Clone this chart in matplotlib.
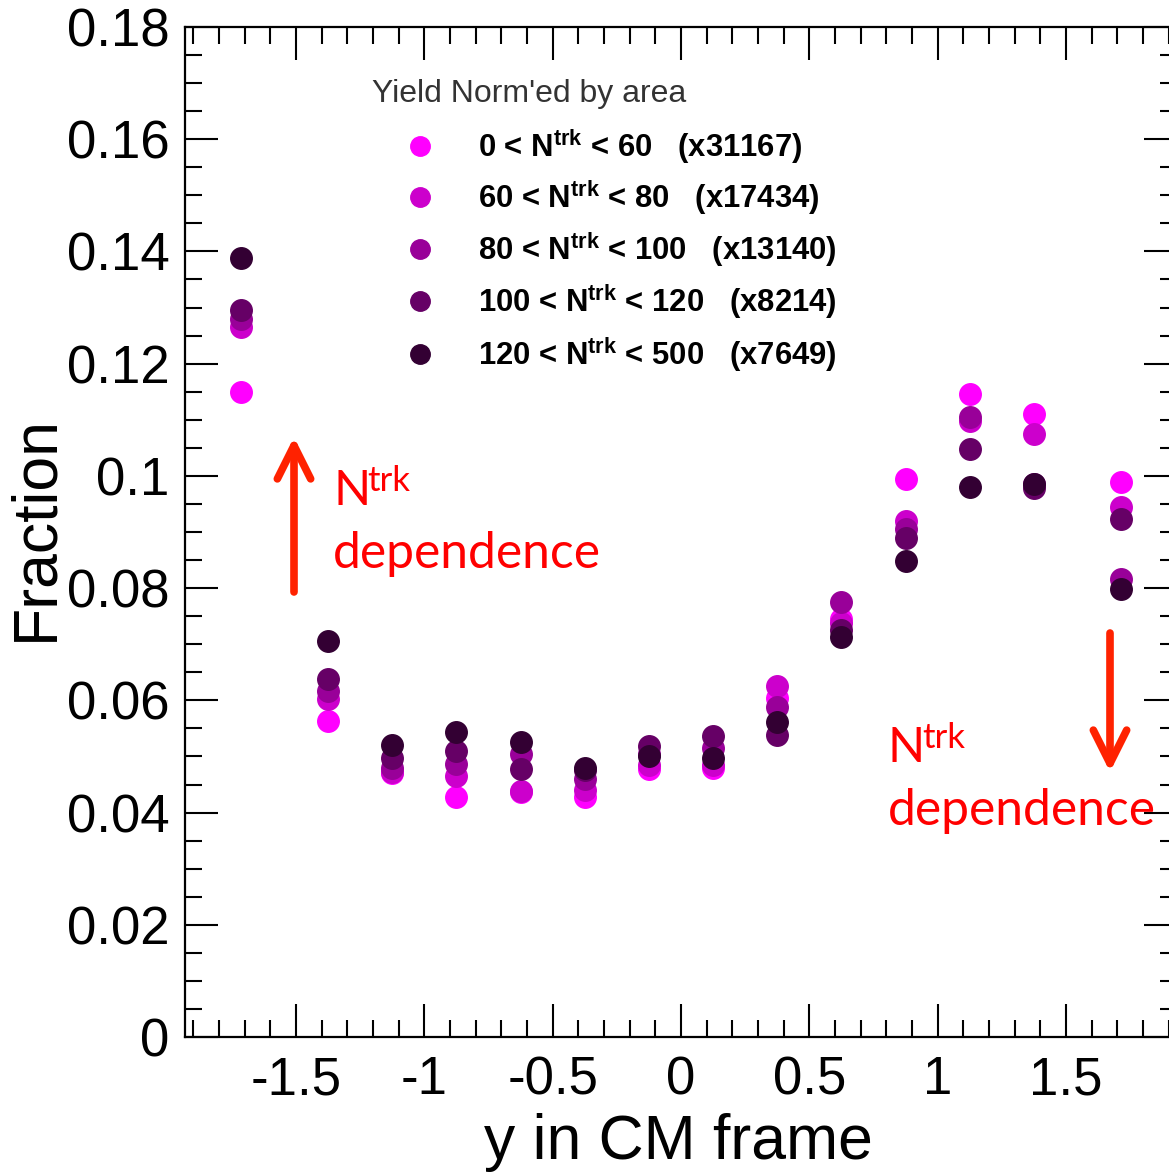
import matplotlib
matplotlib.use("Agg")
import matplotlib.pyplot as plt
from matplotlib.ticker import MultipleLocator, FuncFormatter

plt.rcParams['font.family'] = ['Liberation Sans', 'DejaVu Sans']
plt.rcParams['axes.unicode_minus'] = False
plt.rcParams['mathtext.fontset'] = 'custom'
plt.rcParams['mathtext.bf'] = 'Liberation Sans:bold'

# ---- data ----
y_cm = [-1.715, -1.375, -1.125, -0.875, -0.625, -0.375, -0.125,
        0.125, 0.375, 0.625, 0.875, 1.125, 1.375, 1.715]
frac_0_60 = [0.1150, 0.0563, 0.0470, 0.0427, 0.0436, 0.0427, 0.0477,
             0.0480, 0.0605, 0.0745, 0.0995, 0.1146, 0.1111, 0.0989]
frac_60_80 = [0.1265, 0.0602, 0.0472, 0.0465, 0.0438, 0.0441, 0.0485,
              0.0485, 0.0625, 0.0738, 0.0920, 0.1097, 0.1075, 0.0945]
frac_80_100 = [0.1280, 0.0617, 0.0480, 0.0486, 0.0505, 0.0459, 0.0505,
               0.0515, 0.0589, 0.0775, 0.0905, 0.1105, 0.0985, 0.0816]
frac_100_120 = [0.1295, 0.0638, 0.0498, 0.0509, 0.0477, 0.0475, 0.0518,
                0.0536, 0.0539, 0.0725, 0.0890, 0.1048, 0.0978, 0.0923]
frac_120_500 = [0.1389, 0.0705, 0.0521, 0.0543, 0.0525, 0.0480, 0.0500,
                0.0498, 0.0561, 0.0712, 0.0848, 0.0980, 0.0986, 0.0798]

series = [frac_0_60, frac_60_80, frac_80_100, frac_100_120, frac_120_500]
ranges = [("0", "60", "31167"), ("60", "80", "17434"), ("80", "100", "13140"),
          ("100", "120", "8214"), ("120", "500", "7649")]
colors = ["#FF00FF", "#CC00CC", "#990099", "#660066", "#330033"]
y_ticks = [0, 0.02, 0.04, 0.06, 0.08, 0.1, 0.12, 0.14, 0.16, 0.18]
x_ticks = [-1.5, -1, -0.5, 0, 0.5, 1, 1.5]

W, H = 1169, 1175
fig = plt.figure(figsize=(W / 100, H / 100), dpi=100)
ax = fig.add_axes([185 / W, 138 / H, 992 / W, 1010 / H])


def fxy(px, py):
    return px / W, 1 - py / H


for vals, col in zip(series, colors):
    ax.plot(y_cm, vals, linestyle='none', marker='o', markersize=15.5,
            color=col, markeredgecolor=col)

ax.set_xlim(-1.932, 1.932)
ax.set_ylim(0, 0.18)
ax.set_yticks(y_ticks)
ax.set_xticks(x_ticks)
ax.xaxis.set_minor_locator(MultipleLocator(0.1))
ax.yaxis.set_minor_locator(MultipleLocator(0.005))
fmt = FuncFormatter(lambda v, p: "{:g}".format(round(v, 4)))
ax.xaxis.set_major_formatter(fmt)
ax.yaxis.set_major_formatter(fmt)
ax.tick_params(which='both', direction='in', top=True, right=True, width=1.5)
ax.tick_params(which='major', length=24, labelsize=38)
ax.tick_params(axis='y', which='major', pad=11)
ax.tick_params(axis='x', which='major', pad=13)
ax.tick_params(which='minor', length=12)
for s in ax.spines.values():
    s.set_linewidth(1.6)

ax.set_ylabel("Fraction", fontsize=45)
ax.yaxis.set_label_coords(-0.121, 0.504)
ax.set_xlabel("y in CM frame", fontsize=45)
ax.xaxis.set_label_coords(0.497, -0.075)

# legend (manual)
fig.text(*fxy(372, 102), "Yield Norm'ed by area", fontsize=23, color='#333333',
         ha='left', va='baseline')
leg_y = [146, 197, 249, 301, 354]
for (lo, hi, sc), col, ly in zip(ranges, colors, leg_y):
    fig.lines.append(plt.Line2D([420 / W], [1 - ly / H], transform=fig.transFigure,
                                marker='o', markersize=14, color=col,
                                markeredgecolor=col, linestyle='none'))
    fig.text(*fxy(478, ly + 11),
             lo + r" < N$^{\mathbf{trk}}$ < " + hi + "   (x" + sc + ")",
             fontsize=22.3, fontweight='bold', ha='left', va='baseline')

# red annotations
red_txt = '#FF0000'
red_arr = '#FF2200'
afont = ['Lato', 'DejaVu Sans']
for nx, ny, dy in [(333, 505, 568), (888, 762, 825)]:
    fig.text(*fxy(nx, ny), "N", fontsize=35, color=red_txt, family=afont,
             ha='left', va='baseline')
    fig.text(*fxy(nx + 34, ny - 14), "trk", fontsize=25, color=red_txt, family=afont,
             ha='left', va='baseline')
    fig.text(*fxy(nx, dy), "dependence", fontsize=35.8, color=red_txt, family=afont,
             ha='left', va='baseline')

for (x0, y0, x1, y1) in [(294, 592, 294, 437), (1110, 633, 1110, 772)]:
    ax.annotate("", xy=fxy(x1, y1), xycoords='figure fraction',
                xytext=fxy(x0, y0), textcoords='figure fraction',
                arrowprops=dict(arrowstyle='->,head_length=1.2,head_width=0.6',
                                lw=5.5, color=red_arr, mutation_scale=20,
                                shrinkA=0, shrinkB=0))

fig.savefig("out.png", dpi=100)
